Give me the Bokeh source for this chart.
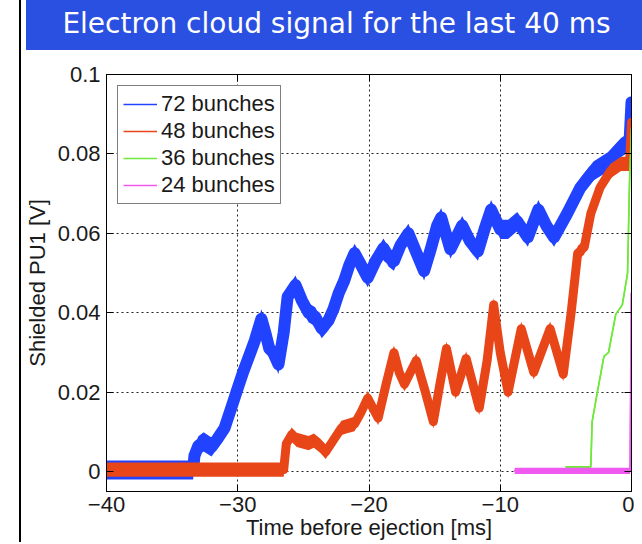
from bokeh.plotting import figure
from bokeh.models import Range1d, FixedTicker, LinearAxis, Legend, LegendItem, Div, ColumnDataSource
from bokeh.layouts import column
from bokeh.embed import file_html
from bokeh.resources import INLINE

# ---------------- data ----------------
title_text = "Electron cloud signal for the last 40 ms"
x_label = "Time before ejection [ms]"
y_label = "Shielded PU1 [V]"

x_ticks = [-40, -30, -20, -10, 0]
x_tick_labels = ["\u221240", "\u221230", "\u221220", "\u221210", "0"]
y_ticks = [0, 0.02, 0.04, 0.06, 0.08, 0.1]
y_tick_labels = ["0", "0.02", "0.04", "0.06", "0.08", "0.1"]

series_names = ["72 bunches", "48 bunches", "36 bunches", "24 bunches"]

t72 = [-40, -33.4, -33.3, -33.0, -32.6, -32.0, -31.5, -31.0, -30.5, -30.1, -29.6, -29.2,
       -28.7, -28.2, -27.9, -27.6, -27.3, -26.9, -26.5, -26.2, -25.6, -25.1, -24.6, -24.1,
       -23.6, -23.1, -22.7, -22.3, -21.9, -21.5, -21.1, -20.6, -20.1, -19.5, -18.9, -18.5,
       -18.1, -17.6, -17.0, -16.5, -15.8, -15.3, -14.8, -14.5, -13.8, -12.9, -12.3, -11.7,
       -11.2, -10.7, -10.0, -9.4, -8.7, -7.9, -7.1, -6.5, -5.9, -4.9, -3.9, -2.9, -1.8,
       -0.8, -0.15, 0.0]
v72 = [0.0004, 0.0004, 0.004, 0.0065, 0.0075, 0.0062, 0.0085, 0.011, 0.016, 0.020, 0.025, 0.0285,
       0.033, 0.0385, 0.035, 0.031, 0.030, 0.027, 0.035, 0.044, 0.047, 0.043, 0.040, 0.039,
       0.036, 0.038, 0.041, 0.045, 0.048, 0.052, 0.055, 0.052, 0.0488, 0.053, 0.0563, 0.054,
       0.053, 0.057, 0.060, 0.056, 0.0505, 0.056, 0.062, 0.064, 0.056, 0.062, 0.058, 0.0555,
       0.061, 0.066, 0.061, 0.061, 0.063, 0.059, 0.066, 0.062, 0.059, 0.065, 0.0715, 0.0757, 0.078,
       0.0816, 0.083, 0.093]

t48 = [-40, -26.5, -26.3, -25.9, -25.5, -24.6, -24.2, -23.7, -23.3, -22.7, -22.1, -21.6,
       -21.1, -20.6, -20.1, -19.3, -18.7, -18.1, -17.7, -17.3, -16.4, -15.7, -15.1, -14.6,
       -14.1, -13.4, -12.6, -11.6, -11.0, -10.5, -10.0, -9.4, -8.4, -7.45, -6.2, -5.2,
       -4.6, -4.1, -3.6, -3.1, -2.4, -1.6, -0.8, -0.15, 0.0]
v48 = [0.0005, 0.0005, 0.007, 0.0093, 0.008, 0.0072, 0.0078, 0.0065, 0.005, 0.008, 0.011, 0.0115,
       0.012, 0.015, 0.0185, 0.0135, 0.022, 0.030, 0.025, 0.022, 0.028, 0.020, 0.0126, 0.022,
       0.031, 0.020, 0.0285, 0.016, 0.028, 0.042, 0.030, 0.020, 0.036, 0.025, 0.036, 0.0245,
       0.040, 0.055, 0.0565, 0.065, 0.0715, 0.0757, 0.0775, 0.0775, 0.088]

t36 = [-5.0, -3.1, -3.0, -2.6, -2.1, -1.75, -1.2, -0.7, -0.3, -0.15, 0.0]
v36 = [0.0012, 0.0012, 0.0126, 0.020, 0.029, 0.030, 0.0396, 0.042, 0.050, 0.073, 0.0865]

t24 = [-8.9, -0.1, 0.0]
v24 = [0.0002, 0.0002, 0.045]

# ---------------- styles ----------------
BLUE, RED, GREEN, MAGENTA = "#2143ff", "#e84618", "#6ee83a", "#f05af0"
FONT = "Liberation Sans"
TXT = "#1a1a1a"

p = figure(width=613, height=487, x_range=Range1d(-40, 0), y_range=Range1d(-0.005, 0.1),
           output_backend="svg", toolbar_location=None,
           min_border_left=84, min_border_right=3, min_border_top=19, min_border_bottom=40)
p.background_fill_color = "white"
p.border_fill_color = "white"
p.outline_line_color = "black"
p.outline_line_width = 1

def band(t, v, hw, lw, color):
    src = ColumnDataSource(dict(x=t, y=v, lo=[a - hw for a in v], hi=[a + hw for a in v]))
    if hw > 0:
        p.varea(x="x", y1="lo", y2="hi", source=src, fill_color=color, fill_alpha=1.0)
    p.line(x="x", y="y", source=src, line_color=color, line_width=lw,
           line_join="round", line_cap="round")
    # thin line used only as legend glyph
    return p.line(x="x", y="y", source=src, line_color=color, line_width=1.5)

r72 = band(t72, v72, 0.0024, 12, BLUE)
r48 = band(t48, v48, 0.0018, 9, RED)
r36 = band(t36, v36, 0.0, 1.6, GREEN)
r24 = band(t24, v24, 0.0008, 2, MAGENTA)

# axes
xa = p.below[0]
ya = p.left[0]
xa.ticker = FixedTicker(ticks=x_ticks)
ya.ticker = FixedTicker(ticks=y_ticks)
xa.major_label_overrides = {t: l for t, l in zip(x_ticks, x_tick_labels)}
ya.major_label_overrides = {t: l for t, l in zip(y_ticks, y_tick_labels)}
for ax in (xa, ya):
    ax.major_label_text_font = FONT
    ax.major_label_text_font_size = "22px"
    ax.major_label_text_color = TXT
    ax.axis_label_text_font = FONT
    ax.axis_label_text_font_size = "22px"
    ax.axis_label_text_font_style = "normal"
    ax.axis_label_text_color = TXT
    ax.major_tick_in = 7
    ax.major_tick_out = 0
    ax.minor_tick_line_color = None
    ax.axis_line_color = "black"
    ax.major_tick_line_color = "black"
xa.axis_label = x_label
ya.axis_label = y_label
xa.major_label_standoff = 5
xa.axis_label_standoff = 0
ya.major_label_standoff = 6
ya.axis_label_standoff = 5

for loc, tk in (("above", x_ticks), ("right", y_ticks)):
    ax2 = LinearAxis(ticker=FixedTicker(ticks=tk),
                     major_label_overrides={t: "" for t in tk},
                     major_label_text_font_size="1px", major_label_standoff=0,
                     major_tick_in=7, major_tick_out=0, minor_tick_line_color=None,
                     axis_line_color="black", major_tick_line_color="black")
    p.add_layout(ax2, loc)

p.xgrid.ticker = FixedTicker(ticks=x_ticks)
p.ygrid.ticker = FixedTicker(ticks=y_ticks)
p.grid.grid_line_color = "#222222"
p.grid.grid_line_dash = "2 3"
p.grid.grid_line_width = 1

legend = Legend(items=[LegendItem(label=series_names[0], renderers=[r72]),
                       LegendItem(label=series_names[1], renderers=[r48]),
                       LegendItem(label=series_names[2], renderers=[r36]),
                       LegendItem(label=series_names[3], renderers=[r24])],
                location="top_left")
legend.margin = 11
legend.padding = 5
legend.spacing = 1
legend.glyph_width = 34
legend.glyph_height = 26
legend.label_height = 26
legend.label_standoff = 4
legend.label_text_font = FONT
legend.label_text_font_size = "22px"
legend.label_text_color = TXT
legend.border_line_color = "black"
legend.border_line_width = 1
legend.background_fill_color = "white"
legend.background_fill_alpha = 1.0
p.add_layout(legend, "center")

banner = Div(text=title_text, width=621, height=53,
             styles={"background-color": "#2a50e2", "color": "white",
                     "font-family": "DejaVu Sans", "font-size": "28px",
                     "text-align": "center", "line-height": "53px",
                     "white-space": "nowrap"})

layout = column(banner, p, spacing=0, margin=(-8, 0, -8, 19),
                styles={"border-left": "2px solid black"})

open("out.html", "w").write(file_html(layout, INLINE))
